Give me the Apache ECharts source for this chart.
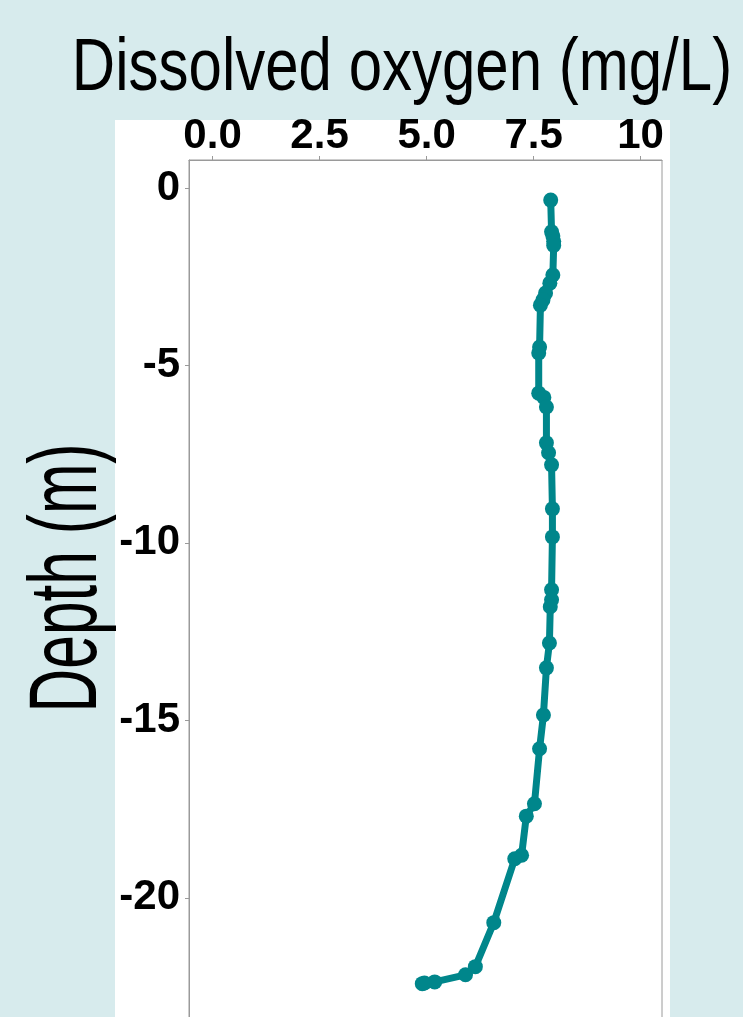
<!DOCTYPE html>
<html>
<head>
<meta charset="utf-8">
<script src="https://cdn.jsdelivr.net/npm/echarts@6/dist/echarts.min.js"></script>
<style>
html,body{margin:0;padding:0;overflow:hidden;background:#d7ebed;}
#c{width:743px;height:1050px;}
</style>
</head>
<body>
<div id="c"></div>
<script>
// Dissolved oxygen (mg/L) and depth (m) readings, top to bottom
const oxygen = [7.90,7.92,7.95,7.97,7.97,7.95,7.88,7.78,7.72,7.66,7.64,7.62,7.62,7.74,7.80,7.80,7.85,7.92,7.94,7.94,7.92,7.92,7.89,7.87,7.80,7.73,7.64,7.52,7.33,7.22,7.06,6.57,6.14,5.91,5.19,4.95,4.90];
const depth = [-0.34,-1.23,-1.35,-1.50,-1.62,-2.45,-2.68,-2.96,-3.15,-3.30,-4.48,-4.65,-5.78,-5.90,-6.17,-7.18,-7.46,-7.80,-9.04,-9.83,-11.32,-11.60,-11.80,-12.82,-13.52,-14.85,-15.80,-17.35,-17.70,-18.80,-18.90,-20.70,-21.94,-22.17,-22.37,-22.40,-22.42];
const xTicks = [0, 2.5, 5, 7.5, 10];
const yTicks = [0, -5, -10, -15, -20];

const chart = echarts.init(document.getElementById('c'));
const lab = {color:'#000', fontFamily:'Liberation Sans, Arial, sans-serif', fontWeight:'bold', fontSize:42};
chart.setOption({
  backgroundColor:'#d7ebed',
  animation:false,
  graphic:[
    {type:'rect', z:-10, shape:{x:115,y:120,width:555,height:940}, style:{fill:'#ffffff'}, silent:true},
    {type:'text', z:5, x:402, y:69, scaleX:0.80, silent:true,
     style:{text:'Dissolved oxygen (mg/L)', fontFamily:'Liberation Sans, Arial, sans-serif', fontSize:75, fill:'#000', align:'center', verticalAlign:'middle'}},
    {type:'text', z:5, x:70, y:578, rotation:Math.PI/2, scaleX:0.63, silent:true,
     style:{text:'Depth (m)', fontFamily:'Liberation Sans, Arial, sans-serif', fontSize:96, fill:'#000', align:'center', verticalAlign:'middle'}}
  ],
  grid:{left:189, right:81, top:160, bottom:28, show:true, borderColor:'#9a9a9a', borderWidth:1, backgroundColor:'#ffffff'},
  xAxis:{
    type:'value', position:'top', min:-0.55, max:10.5,
    axisLine:{show:true, onZero:false, lineStyle:{color:'#9a9a9a'}},
    axisTick:{show:true, length:4, customValues:xTicks, lineStyle:{color:'#9a9a9a'}},
    axisLabel:Object.assign({customValues:xTicks, margin:3, formatter:v=> v===10?'10':v.toFixed(1)}, lab),
    splitLine:{show:false}
  },
  yAxis:{
    type:'value', min:-23.5, max:0.79,
    axisLine:{show:true, onZero:false, lineStyle:{color:'#9a9a9a'}},
    axisTick:{show:true, length:4, customValues:yTicks, lineStyle:{color:'#9a9a9a'}},
    axisLabel:Object.assign({customValues:yTicks, margin:9, formatter:v=>String(v)}, lab),
    splitLine:{show:false}
  },
  series:[{
    type:'line',
    data: oxygen.map((v,i)=>[v, depth[i]]),
    symbol:'circle', symbolSize:15, showSymbol:true,
    lineStyle:{width:7, color:'#00868B'},
    itemStyle:{color:'#00868B'}
  }]
});
</script>
</body>
</html>
